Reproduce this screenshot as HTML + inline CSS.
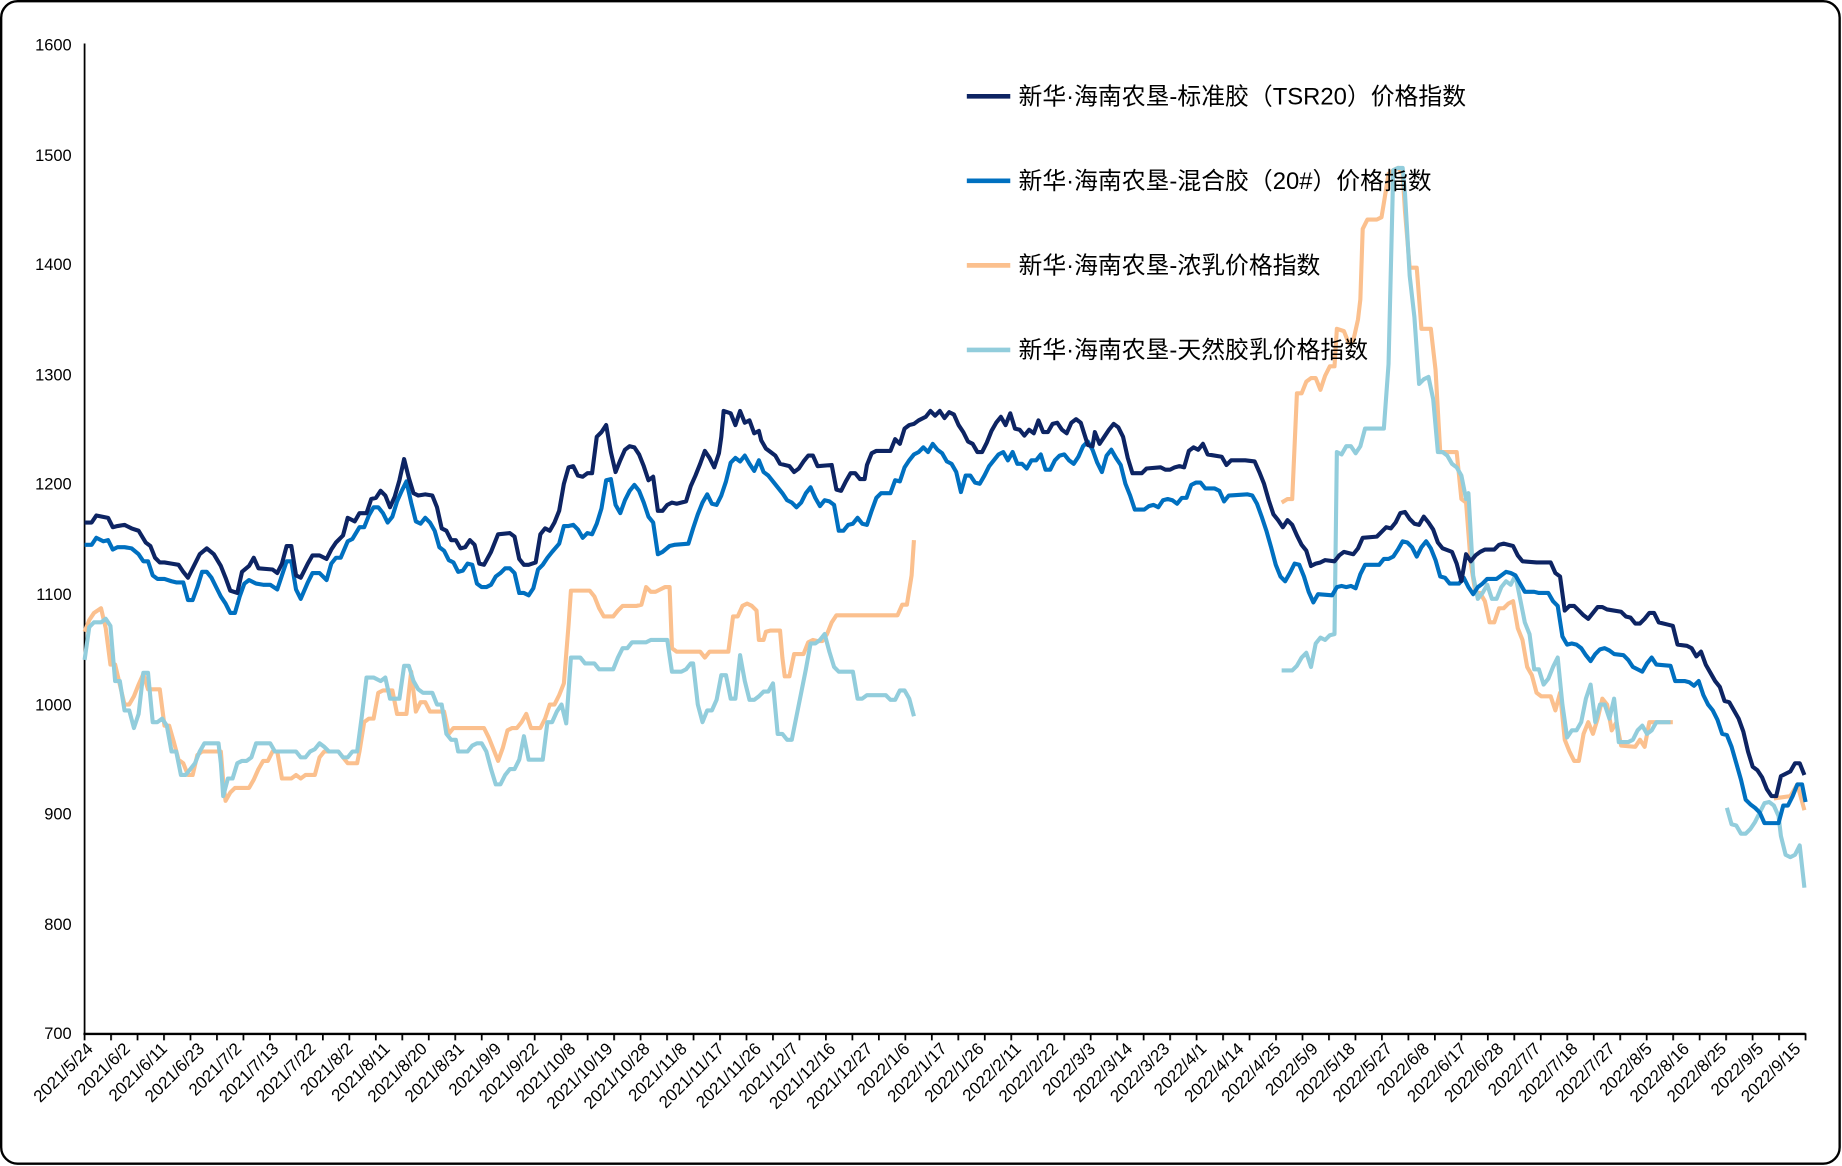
<!DOCTYPE html>
<html><head><meta charset="utf-8"><style>
html,body{margin:0;padding:0;background:#fff}
svg{display:block}
text{font-family:"Liberation Sans","Noto Sans CJK SC",sans-serif}
</style></head><body>
<svg width="1842" height="1166" viewBox="0 0 1568 993" preserveAspectRatio="none" xmlns="http://www.w3.org/2000/svg">
<defs>
<pattern id="tp" x="71.25" y="0" width="22.538" height="10" patternUnits="userSpaceOnUse">
<rect x="0" y="0" width="1.5" height="10" fill="#000"/>
</pattern>
</defs>
<rect x="1" y="1" width="1565" height="990" rx="14" fill="#fff" stroke="#000" stroke-width="2"/>
<g font-size="14" text-anchor="end" fill="#000">
<text x="61" y="43">1600</text><text x="61" y="137">1500</text><text x="61" y="230">1400</text><text x="61" y="324">1300</text><text x="61" y="417">1200</text><text x="61" y="511">1100</text><text x="61" y="605">1000</text><text x="61" y="698">900</text><text x="61" y="792">800</text><text x="61" y="885">700</text>
</g>
<line x1="72" y1="37" x2="72" y2="881" stroke="#000" stroke-width="1.5"/>
<line x1="71" y1="880.5" x2="1537" y2="880.5" stroke="#000" stroke-width="2"/>
<rect x="71" y="880" width="1468" height="6" fill="url(#tp)"/>
<g font-size="14.5" text-anchor="end" fill="#000">
<text transform="translate(80,894) rotate(-45)">2021/5/24</text>
<text transform="translate(111.6,894) rotate(-45)">2021/6/2</text>
<text transform="translate(143.2,894) rotate(-45)">2021/6/11</text>
<text transform="translate(174.8,894) rotate(-45)">2021/6/23</text>
<text transform="translate(206.4,894) rotate(-45)">2021/7/2</text>
<text transform="translate(238,894) rotate(-45)">2021/7/13</text>
<text transform="translate(269.6,894) rotate(-45)">2021/7/22</text>
<text transform="translate(301.2,894) rotate(-45)">2021/8/2</text>
<text transform="translate(332.8,894) rotate(-45)">2021/8/11</text>
<text transform="translate(364.4,894) rotate(-45)">2021/8/20</text>
<text transform="translate(396,894) rotate(-45)">2021/8/31</text>
<text transform="translate(427.6,894) rotate(-45)">2021/9/9</text>
<text transform="translate(459.2,894) rotate(-45)">2021/9/22</text>
<text transform="translate(490.8,894) rotate(-45)">2021/10/8</text>
<text transform="translate(522.4,894) rotate(-45)">2021/10/19</text>
<text transform="translate(554,894) rotate(-45)">2021/10/28</text>
<text transform="translate(585.6,894) rotate(-45)">2021/11/8</text>
<text transform="translate(617.2,894) rotate(-45)">2021/11/17</text>
<text transform="translate(648.8,894) rotate(-45)">2021/11/26</text>
<text transform="translate(680.4,894) rotate(-45)">2021/12/7</text>
<text transform="translate(712,894) rotate(-45)">2021/12/16</text>
<text transform="translate(743.6,894) rotate(-45)">2021/12/27</text>
<text transform="translate(775.2,894) rotate(-45)">2022/1/6</text>
<text transform="translate(806.8,894) rotate(-45)">2022/1/17</text>
<text transform="translate(838.4,894) rotate(-45)">2022/1/26</text>
<text transform="translate(870,894) rotate(-45)">2022/2/11</text>
<text transform="translate(901.6,894) rotate(-45)">2022/2/22</text>
<text transform="translate(933.2,894) rotate(-45)">2022/3/3</text>
<text transform="translate(964.8,894) rotate(-45)">2022/3/14</text>
<text transform="translate(996.4,894) rotate(-45)">2022/3/23</text>
<text transform="translate(1028,894) rotate(-45)">2022/4/1</text>
<text transform="translate(1059.6,894) rotate(-45)">2022/4/14</text>
<text transform="translate(1091.2,894) rotate(-45)">2022/4/25</text>
<text transform="translate(1122.8,894) rotate(-45)">2022/5/9</text>
<text transform="translate(1154.4,894) rotate(-45)">2022/5/18</text>
<text transform="translate(1186,894) rotate(-45)">2022/5/27</text>
<text transform="translate(1217.6,894) rotate(-45)">2022/6/8</text>
<text transform="translate(1249.2,894) rotate(-45)">2022/6/17</text>
<text transform="translate(1280.8,894) rotate(-45)">2022/6/28</text>
<text transform="translate(1312.4,894) rotate(-45)">2022/7/7</text>
<text transform="translate(1344,894) rotate(-45)">2022/7/18</text>
<text transform="translate(1375.6,894) rotate(-45)">2022/7/27</text>
<text transform="translate(1407.2,894) rotate(-45)">2022/8/5</text>
<text transform="translate(1438.8,894) rotate(-45)">2022/8/16</text>
<text transform="translate(1470.4,894) rotate(-45)">2022/8/25</text>
<text transform="translate(1502,894) rotate(-45)">2022/9/5</text>
<text transform="translate(1533.6,894) rotate(-45)">2022/9/15</text>
</g>
<g fill="none" stroke-width="3.5" stroke-linejoin="round">
<polyline stroke="#fbc08e" points="72,538 76,528 80,522 86,518 90,535 94,566 98,566 102,583 106,600 110,600 114,593 118,583 122,574 126,587 132,587 136,587 140,618 144,618 148,632 152,647 156,650 160,660 164,660 168,643 172,640 178,640 184,640 188,640 190,665 192,682 196,675 200,671 206,671 212,671 216,664 220,655 224,648 228,648 232,640 236,640 240,663 244,663 248,663 252,660 256,663 260,660 264,660 268,660 272,645 276,640 280,640 284,640 288,640 292,645 296,650 300,650 304,650 306,640 310,615 314,612 318,612 322,590 326,588 330,588 334,588 338,608 342,608 346,608 350,572 354,606 358,598 362,598 366,606 370,606 374,606 378,606 382,625 386,620 390,620 396,620 402,620 408,620 412,620 416,628 420,638 424,648 428,637 432,622 436,620 440,620 444,615 448,608 452,620 456,620 460,620 464,612 468,600 472,600 476,592 480,582 484,532 486,503 490,503 494,503 498,503 502,503 506,508 510,518 514,525 518,525 522,525 526,520 530,516 534,516 538,516 542,516 546,515 550,500 554,504 558,504 562,502 566,500 570,500 572,552 576,555 580,555 584,555 588,555 592,555 596,555 600,560 604,555 608,555 612,555 616,555 620,555 624,525 628,525 632,516 636,514 640,516 644,520 646,545 650,545 652,538 656,537 660,537 664,537 666,560 668,576 672,576 676,557 680,557 684,557 688,547 692,545 696,546 700,546 704,540 708,530 712,524 716,524 764,524 768,515 772,515 776,490 778,460"/>
<polyline stroke="#fbc08e" points="1091,428 1096,425 1100,425 1104,335 1108,335 1112,325 1116,322 1120,322 1124,332 1128,320 1132,312 1136,312 1138,280 1144,282 1148,292 1152,290 1156,272 1158,255 1160,195 1164,187 1172,187 1176,185 1178,173 1182,148 1186,145 1190,143 1194,148 1196,180 1200,228 1206,228 1210,280 1218,280 1222,315 1226,385 1240,385 1244,425 1248,428 1252,480 1256,505 1260,505 1264,512 1268,530 1272,530 1276,518 1280,518 1284,514 1288,512 1292,535 1296,545 1300,568 1304,575 1308,590 1312,593 1320,593 1324,605 1328,590 1332,630 1336,640 1340,648 1344,648 1348,625 1352,615 1356,625 1360,612 1364,595 1368,600 1372,622 1376,615 1380,635 1392,636 1396,630 1400,636 1404,615 1424,615"/>
<polyline stroke="#fbc08e" points="1510,680 1524,678 1530,668 1536,690"/>
<polyline stroke="#92cddc" points="72,562 76,534 80,530 86,530 90,527 94,533 98,580 102,580 106,605 110,605 114,620 118,608 122,573 126,573 130,615 134,615 138,612 142,618 146,640 150,640 154,660 158,660 162,655 166,650 170,640 174,633 186,633 188,650 190,678 194,663 198,663 202,650 206,648 210,648 214,645 218,633 230,633 234,640 252,640 256,645 260,645 264,640 268,638 272,633 276,636 280,640 288,640 292,645 296,645 300,640 304,640 308,610 312,577 318,577 324,580 328,577 332,595 340,595 344,567 348,567 352,580 356,587 360,590 368,590 372,600 376,600 380,625 384,630 388,630 390,640 398,640 402,635 406,633 410,633 414,640 418,655 422,668 426,668 430,660 434,655 438,655 442,647 446,627 450,647 462,647 466,615 470,615 474,606 478,600 482,616 486,560 494,560 498,565 506,565 510,570 522,570 526,560 530,552 534,552 538,547 550,547 554,545 568,545 572,572 580,572 584,570 588,565 590,565 594,600 598,615 602,605 606,605 610,596 614,575 618,575 622,595 626,595 630,558 634,580 638,596 642,596 646,593 650,589 654,589 658,582 662,625 666,625 670,630 674,630 678,610 682,590 686,570 690,548 694,548 698,545 702,540 706,555 710,568 714,572 726,572 730,595 734,595 738,592 754,592 758,596 762,596 766,588 770,588 774,595 778,610"/>
<polyline stroke="#92cddc" points="1091,571 1100,571 1104,567 1108,560 1112,556 1116,568 1120,548 1124,543 1128,545 1132,541 1136,540 1138,385 1142,387 1146,380 1150,380 1154,386 1158,380 1162,365 1178,365 1182,310 1186,145 1190,143 1194,143 1196,165 1200,235 1204,270 1208,327 1212,323 1216,321 1220,340 1224,385 1228,385 1232,388 1236,395 1240,398 1244,405 1248,425 1250,420 1254,490 1258,510 1262,505 1266,498 1270,510 1274,510 1278,500 1282,495 1286,498 1290,490 1294,510 1298,530 1302,540 1306,570 1310,570 1314,583 1318,578 1322,568 1326,560 1330,600 1334,628 1338,622 1342,622 1346,615 1350,595 1354,583 1358,615 1362,600 1366,600 1370,612 1374,595 1378,632 1386,632 1390,630 1394,622 1398,618 1402,625 1406,622 1410,615 1422,615"/>
<polyline stroke="#92cddc" points="1470,688 1474,702 1478,703 1482,710 1486,710 1490,706 1494,700 1498,692 1502,684 1506,683 1510,686 1514,695 1516,712 1520,728 1524,730 1528,728 1532,720 1536,756"/>
<polyline stroke="#0070c0" points="72,464 78,464 82,458 88,461 92,460 96,468 100,466 106,466 112,467 118,472 122,478 126,478 130,490 134,493 140,493 146,495 150,496 156,496 160,511 164,511 168,500 172,487 176,487 180,492 184,500 188,508 192,514 196,522 200,522 204,508 208,497 212,494 218,497 224,498 230,498 236,502 240,490 244,478 248,478 252,502 256,510 262,496 266,488 272,488 278,494 282,480 286,475 290,475 296,461 300,459 306,449 310,449 314,439 318,432 322,432 326,437 330,445 334,440 338,427 342,418 346,410 350,428 354,444 358,446 362,441 366,445 370,452 374,466 378,469 382,477 386,479 390,487 394,486 398,480 402,481 406,497 410,500 414,500 418,498 422,491 426,488 430,484 434,484 438,488 442,505 446,505 450,507 454,501 458,485 462,481 466,475 470,470 476,463 480,448 484,448 488,447 492,451 496,458 500,454 504,455 508,446 512,433 516,409 520,408 524,430 528,437 532,426 536,418 540,413 544,418 548,428 552,440 556,445 560,472 564,470 570,465 574,464 586,463 590,450 594,438 598,428 602,421 606,429 610,430 614,422 618,410 622,394 626,390 630,393 634,388 638,395 642,401 646,392 650,402 654,405 658,410 662,415 666,420 670,426 674,428 678,432 682,428 686,420 690,415 694,424 698,431 702,426 706,427 710,430 714,452 718,452 722,447 726,446 730,441 734,446 738,447 742,435 746,424 750,420 758,420 762,409 766,410 770,398 774,392 778,387 782,385 786,381 790,385 794,378 798,383 802,386 806,393 810,395 814,402 818,419 822,405 826,405 830,411 834,412 838,405 842,397 846,392 850,387 854,385 858,392 862,385 866,395 870,395 874,399 878,392 882,392 886,387 890,400 894,400 898,392 902,388 906,387 910,392 914,395 918,389 922,380 926,376 930,383 934,394 938,402 942,388 946,383 950,390 954,396 958,412 962,422 966,434 974,434 978,431 982,430 986,432 990,426 994,425 998,426 1002,429 1006,424 1010,424 1014,413 1018,411 1022,411 1026,416 1034,416 1038,418 1042,427 1046,422 1062,421 1066,422 1070,429 1074,440 1078,452 1082,466 1086,481 1090,491 1094,495 1098,488 1102,480 1106,481 1110,491 1114,504 1118,513 1122,506 1134,507 1138,500 1142,499 1146,500 1150,499 1154,501 1158,489 1162,481 1174,481 1178,476 1182,476 1186,474 1190,468 1194,461 1198,462 1202,466 1206,474 1210,466 1214,461 1218,467 1222,477 1226,491 1230,492 1234,497 1242,497 1246,492 1250,500 1254,506 1258,500 1262,497 1266,493 1274,493 1278,490 1282,487 1286,488 1290,490 1294,497 1298,504 1306,504 1310,505 1318,505 1322,512 1326,516 1330,542 1334,549 1338,548 1342,549 1346,552 1350,558 1354,563 1358,557 1362,553 1366,552 1370,554 1374,557 1382,558 1386,562 1390,568 1394,570 1398,572 1402,565 1406,560 1410,566 1422,567 1426,580 1434,580 1438,581 1442,584 1446,580 1450,592 1454,600 1458,605 1462,613 1466,625 1470,626 1474,636 1478,650 1482,664 1486,681 1490,685 1494,688 1498,692 1502,701 1514,701 1518,686 1522,686 1526,678 1530,668 1534,668 1537,683"/>
<polyline stroke="#0d2463" points="72,445 78,445 82,439 92,441 96,449 100,448 106,447 112,450 118,452 124,462 128,465 132,475 136,479 140,479 146,480 152,481 156,487 160,492 164,484 170,472 176,467 182,472 188,482 192,492 196,503 202,505 206,487 212,482 216,475 220,484 232,485 236,488 240,480 244,465 248,465 252,490 256,492 262,480 266,473 272,473 278,476 282,468 286,462 292,456 296,441 302,444 306,437 312,437 316,425 320,424 324,418 328,422 332,432 336,423 340,409 344,391 348,407 352,420 356,422 362,421 368,422 372,432 376,450 380,452 384,460 388,460 392,467 396,466 400,460 404,464 408,480 412,481 418,470 424,455 434,454 438,457 442,476 446,481 450,481 456,479 460,455 464,450 468,452 472,445 476,435 480,412 484,398 488,397 492,405 496,406 500,403 504,403 508,372 512,368 516,362 520,385 524,402 528,392 532,383 536,380 540,381 544,387 548,397 552,409 556,406 560,435 564,435 568,430 572,428 576,429 584,427 588,414 592,405 596,395 600,384 604,390 608,398 612,386 614,372 616,350 622,352 626,362 630,350 634,360 638,358 642,369 646,367 648,375 652,382 656,385 660,388 664,395 672,397 676,402 680,399 684,393 688,388 692,388 696,397 708,396 712,417 716,418 720,410 724,403 728,403 732,408 736,408 738,396 742,386 746,384 758,384 762,374 766,378 770,365 774,362 778,361 782,358 788,355 792,350 796,354 800,350 804,356 808,351 812,353 816,362 820,368 824,376 828,378 832,385 836,385 840,377 844,367 848,360 852,355 856,362 860,352 864,365 868,366 872,371 876,366 880,369 884,358 888,368 892,368 896,361 900,360 904,366 908,369 912,360 916,357 920,360 926,379 930,380 932,368 936,378 940,372 944,366 948,361 952,364 956,372 960,390 964,403 972,403 976,399 988,398 992,400 996,400 1000,398 1004,397 1008,398 1012,384 1016,381 1020,383 1024,378 1028,387 1040,389 1044,396 1048,392 1060,392 1068,393 1072,402 1076,412 1080,426 1084,438 1088,443 1092,449 1096,443 1100,447 1104,456 1108,464 1112,469 1116,482 1120,480 1124,479 1128,477 1136,478 1140,473 1144,470 1152,472 1156,467 1160,458 1172,457 1176,453 1180,449 1184,450 1188,445 1192,437 1196,436 1200,442 1204,446 1208,447 1212,440 1216,445 1220,451 1224,462 1228,467 1236,470 1240,480 1244,495 1248,472 1252,478 1256,473 1260,470 1264,468 1272,468 1276,464 1280,463 1288,465 1292,473 1296,478 1308,479 1320,479 1324,488 1328,491 1332,520 1336,516 1340,516 1344,520 1348,524 1352,527 1356,522 1360,517 1364,517 1368,519 1380,521 1384,525 1388,526 1392,531 1396,531 1400,527 1404,522 1408,522 1412,530 1420,532 1424,533 1428,549 1436,550 1440,552 1444,559 1448,555 1452,566 1456,573 1460,580 1464,585 1468,597 1472,598 1476,605 1480,612 1484,623 1488,640 1492,653 1496,656 1500,662 1504,672 1508,678 1512,678 1516,661 1520,659 1524,657 1528,650 1532,650 1536,660"/>
</g>
<g stroke-width="4">
<line x1="823" y1="82" x2="860" y2="82" stroke="#0d2463"/>
<line x1="823" y1="154" x2="860" y2="154" stroke="#0070c0"/>
<line x1="823" y1="226" x2="860" y2="226" stroke="#fbc08e"/>
<line x1="823" y1="298" x2="860" y2="298" stroke="#92cddc"/>
</g>
<g font-size="20.3" fill="#000">
<text x="867" y="89">新华·海南农垦-标准胶（TSR20）价格指数</text>
<text x="867" y="161">新华·海南农垦-混合胶（20#）价格指数</text>
<text x="867" y="233">新华·海南农垦-浓乳价格指数</text>
<text x="867" y="305">新华·海南农垦-天然胶乳价格指数</text>
</g>
</svg>
</body></html>
